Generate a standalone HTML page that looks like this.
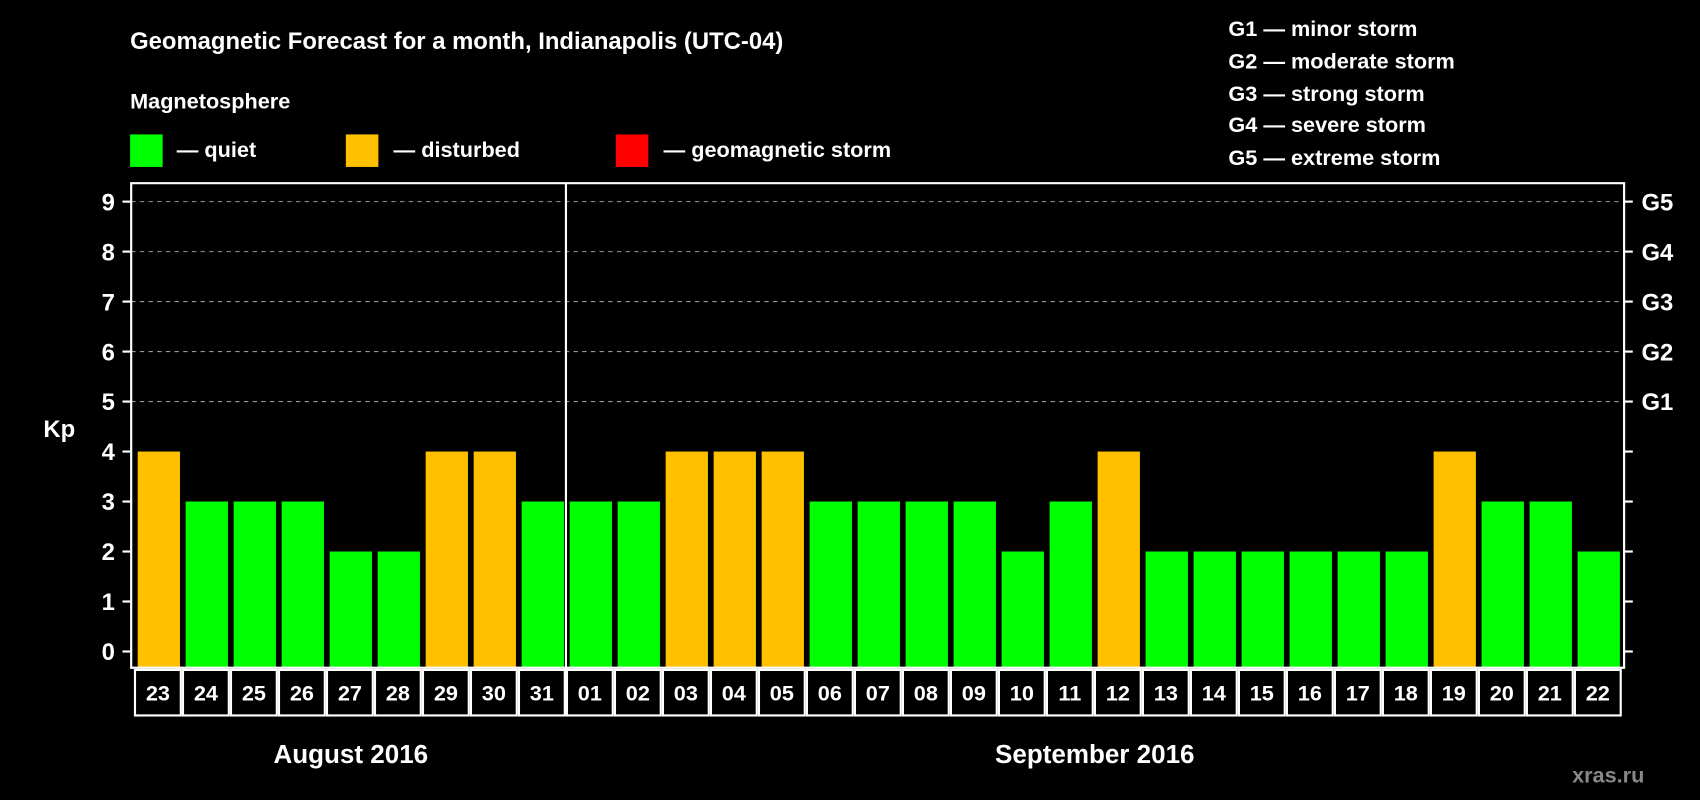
<!DOCTYPE html>
<html><head><meta charset="utf-8"><style>
html,body{margin:0;padding:0;background:#000;width:1700px;height:800px;overflow:hidden}
svg{display:block;font-family:"Liberation Sans",Arial,sans-serif;font-weight:bold}
</style></head><body>
<svg id="chart" width="1700" height="800" viewBox="0 0 1568 738" preserveAspectRatio="none">
<rect width="1568" height="738" fill="#000"/>
<text x="120" y="45" fill="#fff" font-size="22">Geomagnetic Forecast for a month, Indianapolis (UTC-04)</text>
<text x="120" y="100" fill="#fff" font-size="20">Magnetosphere</text>
<g><rect x="120" y="124" width="30" height="30" fill="#00ff00"/><text x="163" y="145" fill="#fff" font-size="20">— quiet</text></g>
<g><rect x="319" y="124" width="30" height="30" fill="#ffc000"/><text x="363" y="145" fill="#fff" font-size="20">— disturbed</text></g>
<g><rect x="568" y="124" width="30" height="30" fill="#ff0000"/><text x="612" y="145" fill="#fff" font-size="20">— geomagnetic storm</text></g>
<g fill="#fff" font-size="20">
<text x="1133" y="33">G1 — minor storm</text><text x="1133" y="63">G2 — moderate storm</text><text x="1133" y="93">G3 — strong storm</text><text x="1133" y="122">G4 — severe storm</text><text x="1133" y="152">G5 — extreme storm</text></g>
<text x="40" y="403" fill="#fff" font-size="22">Kp</text>
<g id="grid"></g><g id="bars"></g><g id="axes"></g><g id="labels"></g>
<text x="1450" y="722" fill="#888" font-size="20">xras.ru</text>
</svg>
<script>
const days = ["23","24","25","26","27","28","29","30","31","01","02","03","04","05","06","07","08","09","10","11","12","13","14","15","16","17","18","19","20","21","22"];
const kpValues = [4,3,3,3,2,2,4,4,3,3,3,4,4,4,3,3,3,3,2,3,4,2,2,2,2,2,2,4,3,3,2];
const yTicks = [0,1,2,3,4,5,6,7,8,9];
const gLabels = ["","","","","","G1","G2","G3","G4","G5"];
const months = [{name:"August 2016",from:0,to:8},{name:"September 2016",from:9,to:30}];
const NS="http://www.w3.org/2000/svg";
const L=121,R=1498,T=169,B=616,Y0=601,Y9=186,pitch=44.27,bx0=127,bw=39;
const y=v=>Y0-(Y0-Y9)*v/9;
const x=i=>bx0+i*pitch;
function mk(tag,attrs,parent,txt){const e=document.createElementNS(NS,tag);for(const k in attrs)e.setAttribute(k,attrs[k]);if(txt!==undefined)e.textContent=txt;parent.appendChild(e);return e;}
const grid=document.getElementById('grid'),bars=document.getElementById('bars'),axes=document.getElementById('axes'),labels=document.getElementById('labels');
yTicks.forEach(t=>{
  if(t>=5){const g=mk('line',{x1:L,x2:R,y1:y(t),y2:y(t),stroke:'#999','stroke-dasharray':'4,4','stroke-width':1},grid);
  
  }
  mk('line',{x1:L-8,x2:L,y1:y(t),y2:y(t),stroke:'#fff','stroke-width':2},axes);
  mk('line',{x1:R,x2:R+8,y1:y(t),y2:y(t),stroke:'#fff','stroke-width':2},axes);
  const tl=mk('text',{x:106,y:y(t)+8,fill:'#fff','font-size':22,'text-anchor':'end'},axes,t);
  
  
  if(gLabels[t]){const gl=mk('text',{x:1514,y:y(t)+8,fill:'#fff','font-size':22},axes,gLabels[t]);
  
  }
});
kpValues.forEach((v,i)=>{
  const r=mk('rect',{x:x(i),y:y(v),width:bw,height:B-y(v),fill:v>=5?'#ff0000':(v>=4?'#ffc000':'#00ff00')},bars);
  
  
  const c=mk('rect',{x:x(i)-2.5,y:618,width:pitch-2,height:42,fill:'none',stroke:'#fff','stroke-width':2},labels);
  
  
  mk('text',{x:x(i)-2.5+(pitch-2)/2,y:646,fill:'#fff','font-size':20,'text-anchor':'middle'},labels,days[i]);
});
const frame=mk('path',{d:`M${L},${B} V${T} H${R} V${B} Z`,fill:'none',stroke:'#fff','stroke-width':2},axes);


const sep=mk('line',{x1:522,x2:522,y1:T,y2:660,stroke:'#fff','stroke-width':2},axes);


months.forEach(m=>{
  const cx=(x(m.from)+x(m.to)+bw)/2;
  const t=mk('text',{x:cx,y:704,fill:'#fff','font-size':24,'text-anchor':'middle'},labels,m.name);
  
  
});
</script>
</body></html>
